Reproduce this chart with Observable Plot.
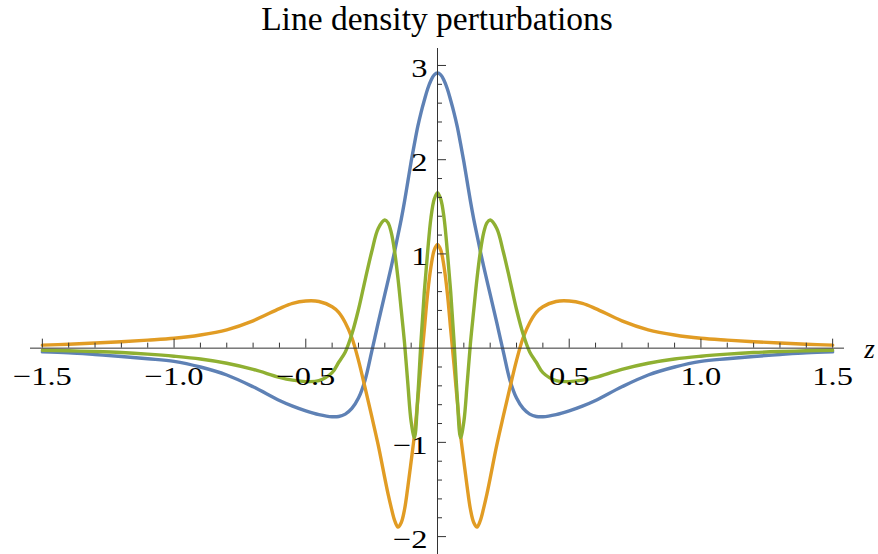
<!DOCTYPE html>
<html>
<head>
<meta charset="utf-8">
<script src="https://cdn.jsdelivr.net/npm/d3@7"></script>
<script src="https://cdn.jsdelivr.net/npm/@observablehq/plot@0.6"></script>
<style>
  html, body { margin: 0; padding: 0; background: #fff; }
  #wrap { width: 878px; height: 554px; overflow: hidden; }
  #title { height: 40px; line-height: normal; font-family: "Liberation Serif", "Times New Roman", serif; font-size: 33.5px; color: #000; text-align: center; padding-right: 4px; white-space: nowrap; }
</style>
</head>
<body>
<div id="wrap">
  <div id="title"></div>
  <div id="chart"></div>
</div>
<script>
const titleText = "Line density perturbations";
const axisLabel = "z";

const zGrid = [
  -1.5, -1.4, -1.3, -1.2, -1.1, -1.0, -0.9, -0.8, -0.7, -0.6, -0.55, -0.5, -0.45, -0.4, -0.375, -0.35, -0.325, -0.3, -0.275,
  -0.25, -0.225, -0.2, -0.1875, -0.175, -0.1625, -0.15, -0.1375, -0.125, -0.1125, -0.1, -0.0875, -0.075, -0.0625, -0.05,
  -0.0375, -0.025, -0.0125, 0,
  0.0125, 0.025, 0.0375, 0.05, 0.0625, 0.075, 0.0875, 0.1, 0.1125, 0.125, 0.1375, 0.15, 0.1625, 0.175, 0.1875, 0.2,
  0.225, 0.25, 0.275, 0.3, 0.325, 0.35, 0.375, 0.4, 0.45, 0.5, 0.55, 0.6, 0.7, 0.8, 0.9, 1.0, 1.1, 1.2, 1.3, 1.4, 1.5
];

const blueValues = [
  -0.04, -0.05, -0.068, -0.088, -0.112, -0.14, -0.2, -0.285, -0.41, -0.555, -0.615, -0.665, -0.705, -0.728, -0.725, -0.70, -0.64, -0.53, -0.34,
  -0.04, 0.27, 0.57, 0.72, 0.87, 1.03, 1.2, 1.37, 1.56, 1.77, 1.98, 2.17, 2.35, 2.5, 2.63,
  2.75, 2.84, 2.9, 2.92,
  2.9, 2.84, 2.75, 2.63, 2.5, 2.35, 2.17, 1.98, 1.77, 1.56, 1.37, 1.2, 1.03, 0.87, 0.72, 0.57,
  0.27, -0.04, -0.34, -0.53, -0.64, -0.70, -0.725, -0.728, -0.705, -0.665, -0.615, -0.555, -0.41, -0.285, -0.2, -0.14, -0.112, -0.088, -0.068, -0.05, -0.04
];

const orangeValues = [
  0.032, 0.042, 0.054, 0.068, 0.085, 0.105, 0.14, 0.195, 0.29, 0.42, 0.475, 0.50, 0.495, 0.44, 0.38, 0.27, 0.11, -0.13, -0.42,
  -0.72, -1.03, -1.38, -1.55, -1.70, -1.83, -1.90, -1.85, -1.71, -1.47, -1.2, -0.92, -0.56, -0.17, 0.2,
  0.58, 0.86, 1.04, 1.1,
  1.04, 0.86, 0.58, 0.2, -0.17, -0.56, -0.92, -1.2, -1.47, -1.71, -1.85, -1.90, -1.83, -1.70, -1.55, -1.38,
  -1.03, -0.72, -0.42, -0.13, 0.11, 0.27, 0.38, 0.44, 0.495, 0.50, 0.475, 0.42, 0.29, 0.195, 0.14, 0.105, 0.085, 0.068, 0.054, 0.042, 0.032
];

const greenValues = [
  -0.022, -0.028, -0.036, -0.047, -0.064, -0.086, -0.115, -0.16, -0.225, -0.31, -0.34, -0.355, -0.345, -0.26, -0.15, -0.04, 0.15, 0.41, 0.72,
  1.02, 1.27, 1.36, 1.33, 1.22, 1.02, 0.74, 0.40, 0.05, -0.38, -0.78, -0.95, -0.52, 0.08, 0.6,
  1.02, 1.38, 1.58, 1.65,
  1.58, 1.38, 1.02, 0.6, 0.08, -0.52, -0.95, -0.78, -0.38, 0.05, 0.40, 0.74, 1.02, 1.22, 1.33, 1.36,
  1.27, 1.02, 0.72, 0.41, 0.15, -0.04, -0.15, -0.26, -0.345, -0.355, -0.34, -0.31, -0.225, -0.16, -0.115, -0.086, -0.064, -0.047, -0.036, -0.028, -0.022
];

const seriesNames = ["series 1", "series 2", "series 3"];
const seriesColors = ["#5E81B5", "#E19C24", "#8FB032"];

const xMajorTicks = [-1.5, -1, -0.5, 0.5, 1, 1.5];
const xTickLabels = ["\u22121.5", "\u22121.0", "\u22120.5", "0.5", "1.0", "1.5"];
const xMinorTicks = [-1.4, -1.3, -1.2, -1.1, -0.9, -0.8, -0.7, -0.6, -0.4, -0.3, -0.2, -0.1,
                     0.1, 0.2, 0.3, 0.4, 0.6, 0.7, 0.8, 0.9, 1.1, 1.2, 1.3, 1.4];
const yMajorTicks = [-2, -1, 1, 2, 3];
const yTickLabels = ["\u22122", "\u22121", "1", "2", "3"];
const yMinorTicks = [-1.8, -1.6, -1.4, -1.2, -0.8, -0.6, -0.4, -0.2, 0.2, 0.4, 0.6, 0.8,
                     1.2, 1.4, 1.6, 1.8, 2.2, 2.4, 2.6, 2.8];

document.getElementById("title").textContent = titleText;

const valueSets = [blueValues, orangeValues, greenValues];
const rows = [];
seriesNames.forEach((name, s) => {
  zGrid.forEach((z, i) => rows.push({series: name, z, v: valueSets[s][i]}));
});

const axisColor = "#333333";
const serif = "Liberation Serif";

const chart = Plot.plot({
  width: 878,
  height: 514,
  marginLeft: 30,
  marginRight: 34,
  marginTop: 8,
  marginBottom: 0,
  x: {domain: [-1.545, 1.545], axis: null},
  y: {domain: [-2.19, 3.18], axis: null},
  color: {type: "ordinal", domain: seriesNames, range: seriesColors},
  style: {background: "white", overflow: "visible"},
  marks: [
    Plot.line(rows, {x: "z", y: "v", z: "series", stroke: "series", strokeWidth: 3.4, curve: "catmull-rom"}),
    Plot.ruleY([0], {stroke: axisColor, strokeWidth: 1}),
    Plot.ruleX([0], {stroke: axisColor, strokeWidth: 1}),
    Plot.ruleX(xMajorTicks, {x: d => d, y1: () => 0, y2: () => 0, insetTop: 0, insetBottom: 9, stroke: axisColor}),
    Plot.ruleX(xMinorTicks, {x: d => d, y1: () => 0, y2: () => 0, insetTop: 0, insetBottom: 5, stroke: axisColor}),
    Plot.ruleY(yMajorTicks, {y: d => d, x1: () => 0, x2: () => 0, insetLeft: 0, insetRight: -9, stroke: axisColor}),
    Plot.ruleY(yMinorTicks, {y: d => d, x1: () => 0, x2: () => 0, insetLeft: 0, insetRight: -5, stroke: axisColor}),
    Plot.text(xMajorTicks, {x: d => d, y: () => 0, text: (d, i) => xTickLabels[i], dy: 29,
      fontSize: 26, fontFamily: serif, fill: "black", textAnchor: "middle", className: "xlab"}),
    Plot.text(yMajorTicks, {x: () => 0, y: d => d, text: (d, i) => yTickLabels[i], dx: -10, dy: 3,
      fontSize: 26, fontFamily: serif, fill: "black", textAnchor: "end", className: "ylab"}),
    Plot.text([axisLabel], {frameAnchor: "right", y: () => 0, text: d => d, dx: 25, dy: 1,
      fontSize: 27, fontFamily: serif, fontStyle: "italic", fill: "black", textAnchor: "middle"})
  ]
});

document.getElementById("chart").appendChild(chart);

// widen tick label glyphs horizontally, as in the reference rendering
chart.querySelectorAll("g.xlab text, g.ylab text").forEach(el => {
  const tr = el.getAttribute("transform");
  if (tr) {
    el.setAttribute("transform", tr + " scale(1.25,1)");
  } else {
    const x = +el.getAttribute("x") || 0, y = +el.getAttribute("y") || 0;
    el.removeAttribute("x"); el.removeAttribute("y");
    el.setAttribute("transform", `translate(${x},${y}) scale(1.25,1)`);
  }
});
</script>
</body>
</html>
